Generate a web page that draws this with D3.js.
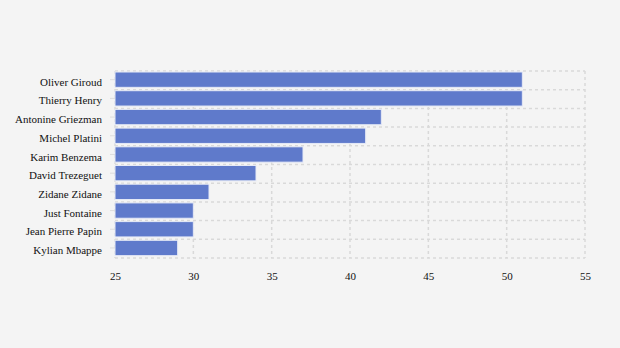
<!DOCTYPE html>
<html>
<head>
<meta charset="utf-8">
<script src="https://cdn.jsdelivr.net/npm/d3@7"></script>
<style>
  html, body { margin: 0; padding: 0; background: #f4f4f4; }
  svg { display: block; }
  svg text { font-family: "Liberation Serif", "Times New Roman", serif; }
</style>
</head>
<body>
<svg id="chart" width="620" height="348"></svg>
<script>
// Top scorers of the French national team
const players = ["Oliver Giroud", "Thierry Henry", "Antonine Griezman", "Michel Platini",
  "Karim Benzema", "David Trezeguet", "Zidane Zidane", "Just Fontaine",
  "Jean Pierre Papin", "Kylian Mbappe"];
const goals = [51, 51, 42, 41, 37, 34, 31, 30, 30, 29];
const xTicks = [25, 30, 35, 40, 45, 50, 55];

const svg = d3.select("#chart");
const margin = { top: 71, left: 115, right: 35, bottom: 90 };
const width = 620, height = 348;

const x = d3.scaleLinear().domain([25, 55]).range([margin.left, width - margin.right]);
// one row per player, bars sit near the top of each row
const y = d3.scaleBand().domain(players).range([margin.top, height - margin.bottom]).padding(0);
const barOffset = 1;
const barHeight = y.bandwidth() * 0.82;

const gridColor = "#d9d9d9";

// horizontal grid lines at row boundaries
const rowEdges = players.map(p => y(p)).concat([y.range()[1]]);
svg.append("g").selectAll("line").data(rowEdges).join("line")
  .attr("x1", margin.left).attr("x2", x(55))
  .attr("y1", d => d).attr("y2", d => d)
  .attr("stroke", gridColor).attr("stroke-width", 1.5).attr("stroke-dasharray", "3,3");

// vertical grid lines
svg.append("g").selectAll("line").data(xTicks).join("line")
  .attr("x1", d => x(d)).attr("x2", d => x(d))
  .attr("y1", margin.top).attr("y2", height - margin.bottom)
  .attr("stroke", gridColor).attr("stroke-width", 1.5).attr("stroke-dasharray", "3,3");

// bars
svg.append("g").selectAll("rect").data(players).join("rect")
  .attr("x", x(25))
  .attr("y", d => y(d) + barOffset)
  .attr("width", (d, i) => x(goals[i]) - x(25))
  .attr("height", barHeight)
  .attr("fill", "#5f7acb")
  .attr("stroke", "#e6eaf6")
  .attr("stroke-width", 1);

// y axis labels with short ticks
const yAxis = svg.append("g")
  .attr("transform", `translate(${margin.left},${barOffset + barHeight / 2 - y.bandwidth() / 2})`)
  .call(d3.axisLeft(y).tickSize(5).tickPadding(8));
yAxis.select(".domain").remove();
yAxis.selectAll("line").attr("stroke", "#dddddd");
yAxis.selectAll("text").style("font-size", "11px").attr("dy", "0.55em").attr("fill", "#111");

// x axis labels
const xAxis = svg.append("g")
  .attr("transform", `translate(0,${height - margin.bottom})`)
  .call(d3.axisBottom(x).tickValues(xTicks).tickSize(0).tickPadding(14));
xAxis.select(".domain").remove();
xAxis.selectAll("text").style("font-size", "11px").attr("fill", "#111");
</script>
</body>
</html>
